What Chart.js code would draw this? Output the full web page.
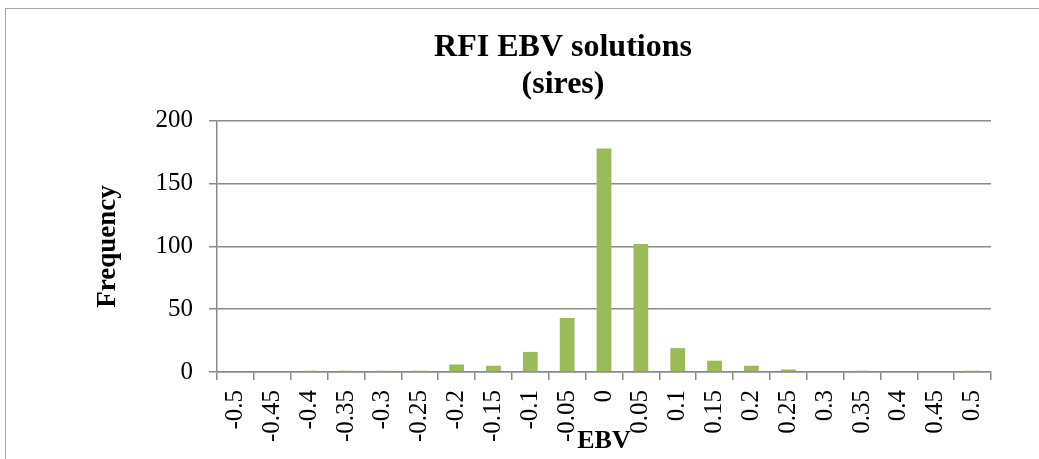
<!DOCTYPE html>
<html>
<head>
<meta charset="utf-8">
<title>RFI EBV solutions (sires)</title>
<script src="https://cdn.jsdelivr.net/npm/chart.js@4.4.1/dist/chart.umd.min.js"></script>
<style>
  html, body { margin: 0; padding: 0; background: #fff; overflow: hidden; }
  #frame {
    position: absolute; left: 5px; top: 8px; width: 1200px; height: 600px;
    border-left: 1px solid #a6a6a6; border-top: 1px solid #a6a6a6;
  }
  #chart { position: absolute; left: 5px; top: 0; }
</style>
</head>
<body>
<div id="frame"></div>
<canvas id="chart" width="1116" height="459"></canvas>
<script>
// bins of the EBV histogram
const ebvBins = ['-0.5', '-0.45', '-0.4', '-0.35', '-0.3', '-0.25', '-0.2', '-0.15', '-0.1', '-0.05',
  '0', '0.05', '0.1', '0.15', '0.2', '0.25', '0.3', '0.35', '0.4', '0.45', '0.5'];
// frequency per bin
const frequency = [0, 0, 1, 1, 1, 1, 6, 5, 16, 43, 178, 102, 19, 9, 5, 2, 0, 1, 0, 0, 1];
const titleLines = ['RFI EBV solutions', '(sires)'];

const serif = 'Liberation Serif';
const gridColor = '#8a8a8a';

new Chart(document.getElementById('chart').getContext('2d'), {
  type: 'bar',
  data: {
    labels: ebvBins,
    datasets: [{
      label: 'Frequency',
      data: frequency,
      backgroundColor: '#9bbb59',
      barPercentage: 0.4,
      categoryPercentage: 1.0
    }]
  },
  options: {
    responsive: false,
    animation: false,
    layout: { padding: { left: 75, right: 75, top: 0, bottom: 0 } },
    plugins: {
      legend: { display: false },
      tooltip: { enabled: false },
      title: {
        display: true,
        text: titleLines,
        color: '#000',
        font: { family: serif, size: 32, weight: 'bold', lineHeight: 1.13 },
        padding: { top: 30, bottom: 18.6 }
      }
    },
    scales: {
      x: {
        grid: { drawOnChartArea: false, drawTicks: true, tickLength: 8, color: gridColor, lineWidth: 1.5, offset: true },
        border: { display: true, color: gridColor, width: 1.5 },
        ticks: { color: '#000', font: { family: serif, size: 25 }, minRotation: 90, maxRotation: 90, padding: 10, autoSkip: false },
        title: { display: true, text: 'EBV', color: '#000', font: { family: serif, size: 26, weight: 'bold' }, padding: { top: 0, bottom: 2.4 } },
        afterFit: function (scale) { scale.height = 87; }
      },
      y: {
        min: 0,
        max: 200,
        ticks: { stepSize: 50, color: '#000', font: { family: serif, size: 25 }, padding: 16 },
        grid: { color: gridColor, lineWidth: 1.5, tickLength: 8 },
        border: { display: true, color: gridColor, width: 1.5 },
        title: { display: true, text: 'Frequency', color: '#000', font: { family: serif, size: 27, weight: 'bold' }, padding: { top: 11.4, bottom: 0 } },
        afterFit: function (scale) { scale.width = 137; }
      },
      // empty axis on the right, only keeps the plot narrower than the title box
      spacer: {
        type: 'linear',
        position: 'right',
        grid: { display: false },
        border: { display: false },
        ticks: { display: false },
        afterFit: function (scale) { scale.width = 55; }
      }
    }
  }
});
</script>
</body>
</html>
